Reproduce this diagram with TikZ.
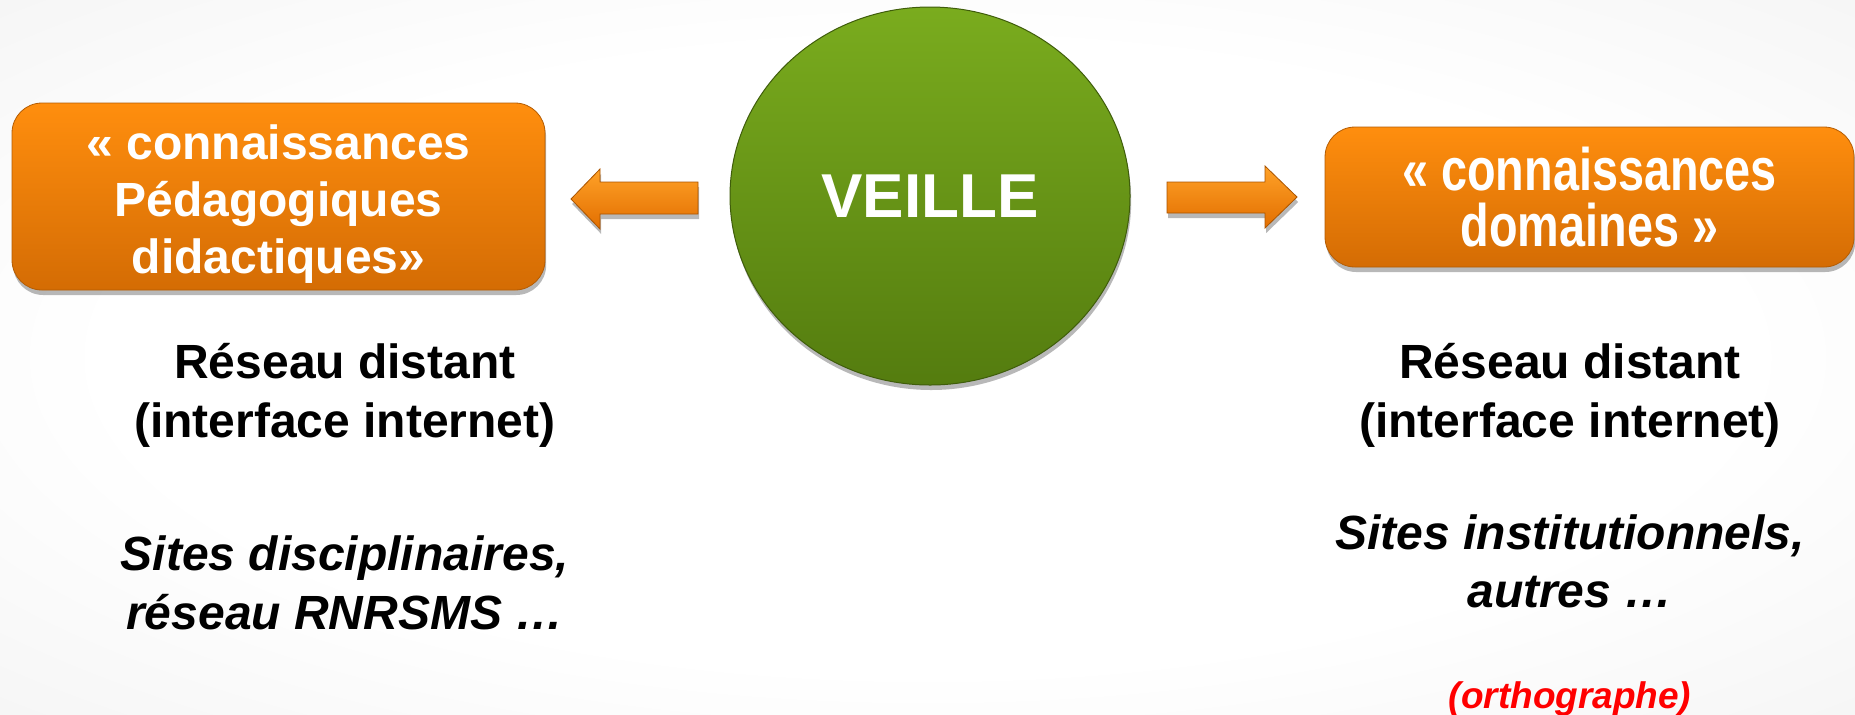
\documentclass[tikz,border=0pt]{standalone}
\usepackage{fontspec}
\setmainfont{Liberation Sans}
\usetikzlibrary{shapes.geometric,shadows}
\pgfdeclareradialshading{bgshade}{\pgfpoint{0bp}{0bp}}{color(0bp)=(white); color(22bp)=(white); color(52bp)=(black!8); color(72bp)=(black!15)}
\definecolor{orTop}{RGB}{255,142,14}
\definecolor{orBot}{RGB}{212,108,4}
\definecolor{grTop}{RGB}{122,172,30}
\definecolor{grBot}{RGB}{84,124,15}
\definecolor{arTop}{RGB}{255,162,40}
\definecolor{arBot}{RGB}{226,110,0}
\definecolor{arEdge}{RGB}{170,84,0}
\definecolor{ortho}{RGB}{255,0,0}
\begin{document}
\begin{tikzpicture}[x=0.5pt,y=-0.5pt,
  shad/.style={drop shadow={shadow xshift=0.6pt, shadow yshift=-2.5pt, opacity=0.28, fill=black}},
  orbox/.style={rectangle, rounded corners=15pt, top color=orTop, bottom color=orBot, draw=orBot!85!black, line width=0.4pt, inner sep=0pt, shad},
  boxtxt/.style={font=\fontsize{24}{28}\selectfont\bfseries, text=white, anchor=base, inner sep=0pt},
  boxtxtn/.style={font=\fontsize{30}{34}\selectfont\bfseries, text=white, anchor=base, inner sep=0pt, xscale=0.78},
  bodytxt/.style={font=\fontsize{24}{28}\selectfont\bfseries, anchor=base, inner sep=0pt},
  itxt/.style={font=\fontsize{24}{28}\selectfont\bfseries\itshape, anchor=base, inner sep=0pt},
  blockarrow/.style={top color=arTop, bottom color=arBot, draw=arEdge, line width=0.4pt, line join=miter, shad}
]
\useasboundingbox (0,0) rectangle (1855,714);
\shade[shading=bgshade] (0,0) rectangle (1855,714);

% left box
\node[orbox, minimum width=266.5pt, minimum height=93.5pt] (lbox) at (278.5,196.5) {};
\node[boxtxt] (l1) at (278.5,159) {« connaissances};
\node[boxtxt] (l2) at (278.5,216) {Pédagogiques};
\node[boxtxt] (l3) at (278.5,273) {didactiques»};

% right box
\node[orbox, minimum width=264.5pt, minimum height=70pt] (rbox) at (1589.5,197) {};
\node[boxtxtn] (r1) at (1589.5,190) {« connaissances};
\node[boxtxtn] (r2) at (1589.5,246) {domaines »};

% circle
\node[ellipse, minimum width=200pt, minimum height=189pt, inner sep=0pt, top color=grTop, bottom color=grBot, draw=grBot!75!black, line width=0.5pt, shad, font=\fontsize{31}{31}\selectfont\bfseries, text=white] (veille) at (930,196) {VEILLE};

% arrows
\path[blockarrow] (698,182) -- (600,182) -- (600,169) -- (571,199) -- (600,229) -- (600,214) -- (698,214) -- cycle;
\path[blockarrow] (1167,182) -- (1265,182) -- (1265,166) -- (1297,197) -- (1265,228) -- (1265,213) -- (1167,213) -- cycle;

% left texts
\node[bodytxt] (lt1) at (345,378) {Réseau distant};
\node[bodytxt] (lt2) at (345,437) {(interface internet)};
\node[itxt] (lt3) at (345,570) {Sites disciplinaires,};
\node[itxt] (lt4) at (345,629) {réseau RNRSMS …};

% right texts
\node[bodytxt] (rt1) at (1570,378) {Réseau distant};
\node[bodytxt] (rt2) at (1570,437) {(interface internet)};
\node[itxt] (rt3) at (1570,549) {Sites institutionnels,};
\node[itxt] (rt4) at (1570,607) {autres …};
\node[itxt, font=\fontsize{18.5}{22}\selectfont\bfseries\itshape, text=ortho] (rt5) at (1570,708) {(orthographe)};
\end{tikzpicture}
\end{document}
